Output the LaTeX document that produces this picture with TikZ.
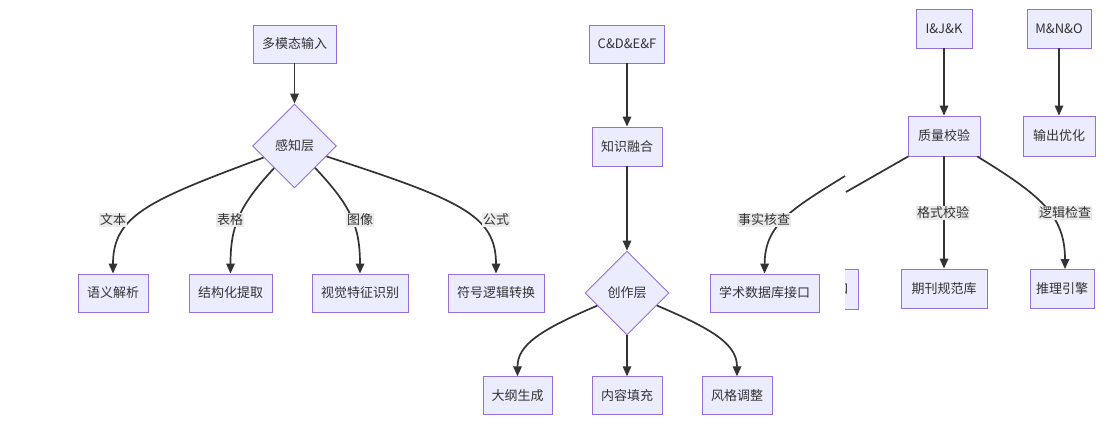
\documentclass[tikz,border=0pt]{standalone}
\usepackage{fontspec}
\setmainfont{Noto Sans CJK SC}
\usetikzlibrary{arrows.meta,shapes.geometric}
\definecolor{nfill}{HTML}{ECECFF}
\definecolor{nline}{HTML}{9370DB}
\definecolor{ink}{HTML}{333333}
\definecolor{lbg}{HTML}{EBEBEB}
\begin{document}
\begin{tikzpicture}[x=1pt,y=-1pt,
  txt/.style={text=ink, font=\fontsize{13}{15}\selectfont},
  box/.style={txt, draw=nline, fill=nfill, line width=0.9pt, inner sep=0pt, minimum height=38pt},
  dia/.style={txt, diamond, draw=nline, fill=nfill, line width=0.9pt, inner sep=0pt, minimum width=84pt, minimum height=84pt},
  edge/.style={draw=ink, line width=1.7pt, -{Triangle[length=10pt,width=8.5pt]}},
  plain/.style={draw=ink, line width=1.7pt},
  lbl/.style={txt, fill=lbg, inner sep=1pt}]
\useasboundingbox[fill=white] (0,0) rectangle (1109,428);

% left group
\node[box, minimum width=83pt] (in1) at (294.5,44) {多模态输入};
\node[dia] (d1) at (294.5,146) {感知层};
\node[box, minimum width=70pt] (n1) at (113,293) {语义解析};
\node[box, minimum width=83pt] (n2) at (230.5,293) {结构化提取};
\node[box, minimum width=96pt] (n3) at (360,293) {视觉特征识别};
\node[box, minimum width=96pt] (n4) at (496,293) {符号逻辑转换};

% middle group
\node[box, minimum width=75pt] (c1) at (627,44) {C\&D\&E\&F};
\node[box, minimum width=70pt, minimum height=39pt] (c2) at (627,146.5) {知识融合};
\node[dia] (d2) at (627,293) {创作层};
\node[box, minimum width=69pt, minimum height=37.5pt] (m1) at (517.5,395.5) {大纲生成};
\node[box, minimum width=70pt, minimum height=37.5pt] (m2) at (627,395.5) {内容填充};
\node[box, minimum width=70pt, minimum height=37.5pt] (m3) at (737,395.5) {风格调整};

% right group
\node[box, minimum width=56pt, minimum height=39pt] (ijk) at (944,28.5) {I\&J\&K};
\node[box, minimum width=64pt, minimum height=39pt] (mno) at (1059,28.5) {M\&N\&O};
\node[box, minimum width=72pt, minimum height=40pt] (q) at (944,136) {质量校验};
\node[box, minimum width=72pt, minimum height=40pt] (out) at (1059,136) {输出优化};
\node[box, minimum width=86pt, minimum height=39pt] (jn) at (944,288.5) {期刊规范库};
\node[box, minimum width=64pt, minimum height=39pt] (re) at (1062,288.5) {推理引擎};
\node[box, minimum width=109pt] (kdb) at (764.5,293) {学术数据库接口};

% clipped fragment of a node
\fill[nfill] (845,269) rectangle (858,309);
\begin{scope}
  \clip (845,269) rectangle (858,309);
  \node[txt, inner sep=0pt] (frag) at (842,289) {口};
\end{scope}
\draw[nline, line width=0.9pt] (845,269) -- (858,269) -- (858,309) -- (845,309);

% edges left
\draw[edge] (in1) -- (d1);
\draw[edge] (d1) .. controls (150,200) and (113,215) .. (n1.north);
\draw[edge] (d1) .. controls (240,205) and (230.5,225) .. (n2.north);
\draw[edge] (d1) .. controls (350,205) and (360,225) .. (n3.north);
\draw[edge] (d1) .. controls (460,200) and (496,215) .. (n4.north);

% edges middle
\draw[edge] (c1) -- (c2);
\draw[edge] (c2) -- (d2);
\draw[edge] (d2) .. controls (540,330) and (517.5,345) .. (m1.north);
\draw[edge] (d2) -- (m2);
\draw[edge] (d2) .. controls (715,330) and (737,345) .. (m3.north);

% edges right
\draw[edge] (ijk) -- (q);
\draw[edge] (mno) -- (out);
\draw[edge] (q) -- (jn);
\draw[edge] (q) .. controls (1040,195) and (1065,215) .. (1065,269);
\coordinate (cutR) at (846,192);
\coordinate (cutL) at (845,176);
\draw[plain] (q) -- (cutR);
\draw[edge] (cutL) .. controls (790,210) and (765,225) .. (kdb.north);

% labels
\node[lbl] (l1) at (113,220) {文本};
\node[lbl] (l2) at (230,220) {表格};
\node[lbl] (l3) at (360,220) {图像};
\node[lbl] (l4) at (496,220) {公式};
\node[lbl] (l5) at (764,220) {事实核查};
\node[lbl] (l6) at (943,213) {格式校验};
\node[lbl] (l7) at (1065,213) {逻辑检查};
\end{tikzpicture}
\end{document}
